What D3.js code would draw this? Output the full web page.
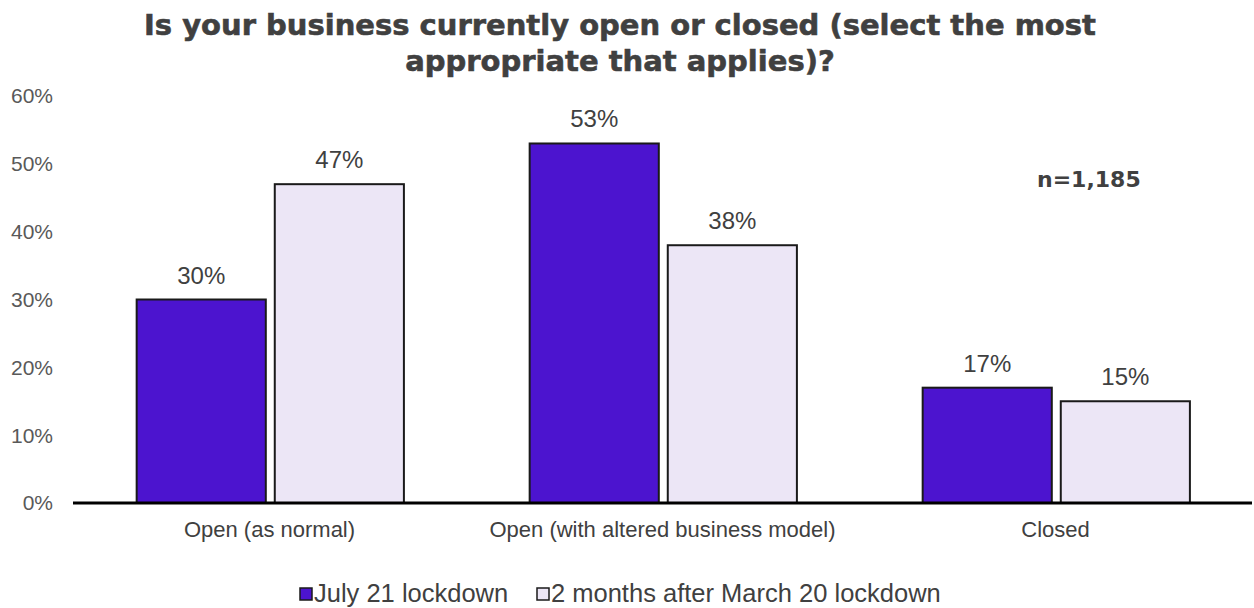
<!DOCTYPE html>
<html>
<head>
<meta charset="utf-8">
<script src="https://cdn.jsdelivr.net/npm/d3@7"></script>
<style>
  body { margin: 0; background: #fff; }
  text { font-family: "Liberation Sans", Arial, sans-serif; }
</style>
</head>
<body>
<div id="chart"></div>
<script>
var categories = ["Open (as normal)", "Open (with altered business model)", "Closed"];
var seriesNames = ["July 21 lockdown", "2 months after March 20 lockdown"];
var july21 = [30, 53, 17];
var march20 = [47, 38, 15];
var yTicks = [0, 10, 20, 30, 40, 50, 60];
var colors = ["#4c14cf", "#ece6f6"];

var width = 1254, height = 608;
var margin = {top: 96, right: 2, bottom: 105, left: 73};

var svg = d3.select("#chart").append("svg")
    .attr("width", width)
    .attr("height", height);

// title
var title = svg.append("text")
    .attr("text-anchor", "middle")
    .style("font-family", "'DejaVu Sans', sans-serif")
    .style("font-size", "29px")
    .style("font-weight", "bold")
    .attr("fill", "#404040")
    .attr("stroke", "#404040")
    .attr("stroke-width", 0.6);
title.append("tspan").attr("x", 620).attr("y", 35).text("Is your business currently open or closed (select the most");
title.append("tspan").attr("x", 620).attr("y", 71).text("appropriate that applies)?");

var x = d3.scaleBand()
    .domain(categories)
    .range([margin.left, width - margin.right]);

var x1 = d3.scaleBand()
    .domain([0, 1])
    .range([x.bandwidth() * 0.162, x.bandwidth() * 0.842])
    .paddingInner(0.065);

var y = d3.scaleLinear()
    .domain([0, 60])
    .range([height - margin.bottom, margin.top]);

// y tick labels
svg.append("g").selectAll("text")
    .data(yTicks)
    .enter().append("text")
    .attr("x", 53)
    .attr("y", function(d) { return y(d); })
    .attr("dy", "0.35em")
    .attr("text-anchor", "end")
    .style("font-size", "21px")
    .attr("fill", "#595959")
    .text(function(d) { return d + "%"; });

var data = categories.map(function(c, i) {
  return {cat: c, vals: [july21[i], march20[i]]};
});

var groups = svg.append("g").selectAll("g")
    .data(data)
    .enter().append("g")
    .attr("transform", function(d) { return "translate(" + x(d.cat) + ",0)"; });

groups.selectAll("rect")
    .data(function(d) { return d.vals; })
    .enter().append("rect")
    .attr("x", function(d, i) { return x1(i); })
    .attr("y", function(d) { return y(d); })
    .attr("width", x1.bandwidth())
    .attr("height", function(d) { return y(0) - y(d); })
    .attr("fill", function(d, i) { return colors[i]; })
    .attr("stroke", "#1a1a1a")
    .attr("stroke-width", 2);

groups.selectAll("text.val")
    .data(function(d) { return d.vals; })
    .enter().append("text")
    .attr("class", "val")
    .attr("x", function(d, i) { return x1(i) + x1.bandwidth() / 2; })
    .attr("y", function(d) { return y(d) - 16; })
    .attr("text-anchor", "middle")
    .style("font-size", "24px")
    .attr("fill", "#404040")
    .text(function(d) { return d + "%"; });

// x axis line
svg.append("line")
    .attr("x1", margin.left)
    .attr("x2", width - margin.right)
    .attr("y1", y(0))
    .attr("y2", y(0))
    .attr("stroke", "#000")
    .attr("stroke-width", 3);

// category labels
svg.append("g").selectAll("text")
    .data(categories)
    .enter().append("text")
    .attr("x", function(d) { return x(d) + x.bandwidth() / 2; })
    .attr("y", 537)
    .attr("text-anchor", "middle")
    .style("font-size", "22px")
    .attr("fill", "#404040")
    .text(function(d) { return d; });

// n label
svg.append("text")
    .attr("x", 1037)
    .attr("y", 187)
    .style("font-family", "'DejaVu Sans', sans-serif")
    .style("font-size", "22px")
    .style("font-weight", "bold")
    .attr("fill", "#404040")
    .text("n=1,185");

// legend
var legendX = [300, 537];
var legend = svg.append("g").selectAll("g")
    .data(seriesNames)
    .enter().append("g")
    .attr("transform", function(d, i) { return "translate(" + legendX[i] + ",588)"; });
legend.append("rect")
    .attr("x", 0).attr("y", 0)
    .attr("width", 12).attr("height", 12)
    .attr("fill", function(d, i) { return colors[i]; })
    .attr("stroke", "#1a1a1a")
    .attr("stroke-width", 1.5);
legend.append("text")
    .attr("x", 14)
    .attr("y", 14)
    .style("font-size", "25.5px")
    .attr("fill", "#404040")
    .text(function(d) { return d; });
</script>
</body>
</html>
